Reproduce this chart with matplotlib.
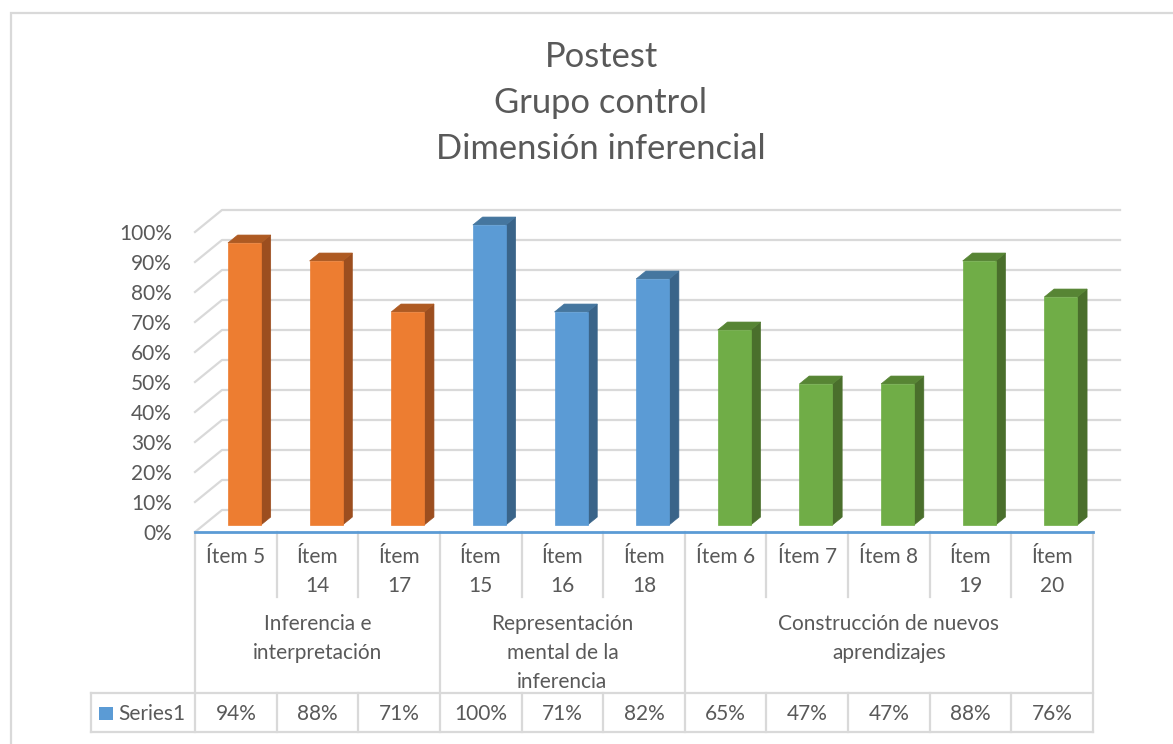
import textwrap
import matplotlib
matplotlib.use("Agg")
import matplotlib.pyplot as plt
from matplotlib.patches import Polygon, Rectangle
from matplotlib.lines import Line2D

# ---- data -------------------------------------------------------------
items = ["Ítem 5", "Ítem 14", "Ítem 17", "Ítem 15", "Ítem 16", "Ítem 18",
         "Ítem 6", "Ítem 7", "Ítem 8", "Ítem 19", "Ítem 20"]
values = [94, 88, 71, 100, 71, 82, 65, 47, 47, 88, 76]
groups = ["Inferencia e\ninterpretación",
          "Representación\nmental de la\ninferencia",
          "Construcción de nuevos\naprendizajes"]
group_sizes = [3, 3, 5]
series_name = "Series1"
yticks = list(range(0, 101, 10))
title_lines = ["Postest", "Grupo control", "Dimensión inferencial"]

# ---- styling ----------------------------------------------------------
plt.rcParams["font.family"] = ["Lato", "DejaVu Sans"]
TXT = "#595959"
GRID = "#D9D9D9"
AXIS_BLUE = "#5B9BD5"
face_colors = {  # front, side, top
    0: ("#ED7D31", "#9C4E1F", "#AE5A22"),
    1: ("#5B9BD5", "#3A6489", "#45769F"),
    2: ("#70AD47", "#4A6F2C", "#578534"),
}

W, H, DPI = 1173, 744, 100
fig = plt.figure(figsize=(W / DPI, H / DPI), dpi=DPI)

n = len(values)
PX = 81.64          # pixels per category
PY = 3.0            # pixels per percent
DX = 27 / PX        # depth offset, category units
DY = 22 / PY        # depth offset, percent units
x_floor = 195       # pixel of front-left floor corner
y_floor = 532       # pixel (from top) of front floor edge

ax_w = (n + DX) * PX
ax_h = (100 + DY) * PY
ax = fig.add_axes([x_floor / W, (H - y_floor) / H, ax_w / W, ax_h / H])
ax.set_xlim(0, n + DX)
ax.set_ylim(0, 100 + DY)
for s in ax.spines.values():
    s.set_visible(False)
ax.set_xticks([])
ax.set_yticks(yticks)
ax.set_yticklabels([f"{v}%" for v in yticks])
ax.tick_params(axis="y", length=0, pad=16.5, labelsize=15, labelcolor=TXT)
ax.patch.set_alpha(0)

# gridlines: side-wall diagonal plus back-wall horizontal
for v in yticks:
    ax.add_line(Line2D([0, DX, n + DX], [v, v + DY, v + DY],
                       color=GRID, lw=1.6, zorder=1, clip_on=False))

# 3-D style columns
group_of = []
for g, size in enumerate(group_sizes):
    group_of += [g] * size

bw = 0.404
f0, f1 = 0.32, 0.68
for i, (v, g) in enumerate(zip(values, group_of)):
    front, side, top = face_colors[g]
    x0 = i + 0.5 - bw / 2
    x1 = x0 + bw
    s0, s1 = f0 * DX, f1 * DX
    b0, b1 = f0 * DY, f1 * DY
    ax.add_patch(Polygon([(x1 + s0, b0), (x1 + s1, b1), (x1 + s1, b1 + v), (x1 + s0, b0 + v)],
                         closed=True, fc=side, ec=side, lw=0.5, zorder=3))
    ax.add_patch(Polygon([(x0 + s0, b0 + v), (x1 + s0, b0 + v), (x1 + s1, b1 + v), (x0 + s1, b1 + v)],
                         closed=True, fc=top, ec=top, lw=0.5, zorder=3))
    ax.add_patch(Polygon([(x0 + s0, b0), (x1 + s0, b0), (x1 + s0, b0 + v), (x0 + s0, b0 + v)],
                         closed=True, fc=front, ec=front, lw=0.5, zorder=4))

# ---- data table under the floor --------------------------------------
tab_h = 200
tab = fig.add_axes([x_floor / W, (H - y_floor - tab_h) / H, ax_w / W, tab_h / H])
tab.set_xlim(0, n + DX)
tab.set_ylim(tab_h, 0)
tab.axis("off")

row_group = 65      # item row ends
row_series = 161    # series row top
row_bottom = 200    # series row bottom
legend_left = -(x_floor - 91) / PX

lkw = dict(color=GRID, lw=1.6, zorder=1, clip_on=False)
bounds = [0]
for size in group_sizes:
    bounds.append(bounds[-1] + size)
for b in range(n + 1):
    if b in bounds:
        tab.add_line(Line2D([b, b], [0, row_bottom], **lkw))
    else:
        tab.add_line(Line2D([b, b], [0, row_group], **lkw))
        tab.add_line(Line2D([b, b], [row_series, row_bottom], **lkw))
tab.add_line(Line2D([legend_left, n], [row_series, row_series], **lkw))
tab.add_line(Line2D([legend_left, n], [row_bottom, row_bottom], **lkw))
tab.add_line(Line2D([legend_left, legend_left], [row_series, row_bottom], **lkw))

# floor front edge (category axis line)
tab.add_line(Line2D([0, n], [0, 0], color=AXIS_BLUE, lw=2, zorder=5, clip_on=False))

tkw = dict(color=TXT, fontsize=15, ha="center", va="baseline", clip_on=False)
for i, name in enumerate(items):
    for k, line in enumerate(textwrap.wrap(name, 6)):
        tab.text(i + 0.5, 31 + 29.5 * k, line, **tkw)

for g, label in enumerate(groups):
    cx = (bounds[g] + bounds[g + 1]) / 2
    for k, line in enumerate(label.split("\n")):
        tab.text(cx, 98 + 29 * k, line, **tkw)

for i, v in enumerate(values):
    tab.text(i + 0.5, 188, f"{v}%", **tkw)

tab.add_patch(Rectangle((-(x_floor - 99) / PX, 175), 14 / PX, 13,
                        fc=AXIS_BLUE, ec="none", clip_on=False))
tab.text(-(x_floor - 118) / PX, 188, series_name, color=TXT, fontsize=15,
         ha="left", va="baseline", clip_on=False)

# ---- title ------------------------------------------------------------
for k, line in enumerate(title_lines):
    fig.text(601 / W, 1 - (67 + 46 * k) / H, line, color=TXT, fontsize=24.8,
             ha="center", va="baseline")

# chart-area border
fig.patches.append(Rectangle((11 / W, -0.1), 1.2, 1 - 13 / H + 0.1,
                             transform=fig.transFigure, fill=False,
                             ec=GRID, lw=1.6))

fig.savefig("out.png", dpi=DPI, facecolor="white")
